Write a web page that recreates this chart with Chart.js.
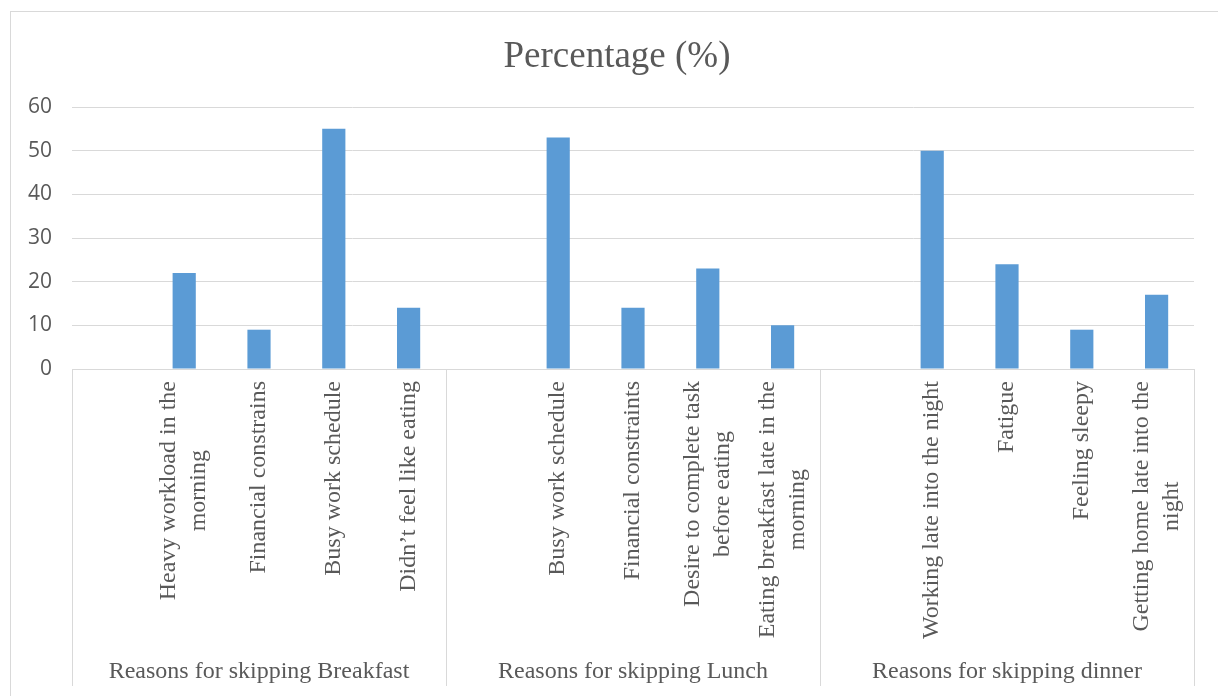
<!DOCTYPE html>
<html>
<head>
<meta charset="utf-8">
<script src="https://cdn.jsdelivr.net/npm/chart.js@4.4.1/dist/chart.umd.min.js"></script>
<style>
  html, body { margin: 0; padding: 0; background: #fff; overflow: hidden; }
  #frame {
    position: absolute; left: 10px; top: 11px; width: 1240px; height: 720px;
    border: 1px solid #d9d9d9; box-sizing: border-box;
  }
  #wrap { position: absolute; left: 0; top: 0; width: 1218px; height: 696px; }
</style>
</head>
<body>
<div id="frame"></div>
<div id="wrap"><canvas id="chart" width="1218" height="696"></canvas></div>
<script>
// Datos del gráfico
const chartTitle = 'Percentage (%)';
const groups = ['Reasons for skipping Breakfast', 'Reasons for skipping Lunch', 'Reasons for skipping dinner'];
const categories = [
  '', ['Heavy workload in the', 'morning'], 'Financial constrains', 'Busy work schedule', 'Didn\u2019t feel like eating',
  '', 'Busy work schedule', 'Financial constraints', ['Desire to complete task', 'before eating'], ['Eating breakfast late in the', 'morning'],
  '', 'Working late into the night', 'Fatigue', 'Feeling sleepy', ['Getting home late into the', 'night']
];
const percentages = [null, 22, 9, 55, 14, null, 53, 14, 23, 10, null, 50, 24, 9, 17];
const yTicks = [0, 10, 20, 30, 40, 50, 60];

const TEXT_COLOR = '#595959';
const LINE_COLOR = '#d9d9d9';
const SERIF = '"Liberation Serif", "Times New Roman", serif';

// Título, etiquetas de categoría giradas, separadores y nombres de grupo
const multiLevelAxis = {
  id: 'multiLevelAxis',
  afterDraw(chart) {
    const ctx = chart.ctx;
    const x = chart.scales.x;
    const top = x.top;
    const bottom = x.bottom;
    const perGroup = categories.length / groups.length;

    ctx.save();
    // título centrado en el marco
    ctx.fillStyle = TEXT_COLOR;
    ctx.font = '37px ' + SERIF;
    ctx.textAlign = 'center';
    ctx.textBaseline = 'alphabetic';
    ctx.fillText(chartTitle, (chart.width + 16) / 2, 67);

    ctx.strokeStyle = LINE_COLOR;
    ctx.lineWidth = 1;
    for (let g = 0; g <= groups.length; g++) {
      const px = Math.round(x.getPixelForValue(g * perGroup - 0.5)) + 0.5;
      ctx.beginPath();
      ctx.moveTo(px, top);
      ctx.lineTo(px, bottom);
      ctx.stroke();
    }

    ctx.font = '24px ' + SERIF;
    const lh = 30;
    categories.forEach((label, i) => {
      if (!label) return;
      const lines = Array.isArray(label) ? label : [label];
      const w = Math.max(...lines.map(l => ctx.measureText(l).width));
      const px = x.getPixelForValue(i);
      ctx.save();
      ctx.translate(px, top + 12);
      ctx.rotate(-Math.PI / 2);
      ctx.textAlign = 'center';
      ctx.textBaseline = 'middle';
      lines.forEach((l, j) => {
        ctx.fillText(l, -w / 2, (j - (lines.length - 1) / 2) * lh);
      });
      ctx.restore();
    });

    ctx.textAlign = 'center';
    ctx.textBaseline = 'middle';
    groups.forEach((name, g) => {
      const a = x.getPixelForValue(g * perGroup - 0.5);
      const b = x.getPixelForValue((g + 1) * perGroup - 0.5);
      ctx.fillText(name, (a + b) / 2, bottom - 14);
    });
    ctx.restore();
  }
};

const ctx = document.getElementById('chart').getContext('2d');
new Chart(ctx, {
  type: 'bar',
  data: {
    labels: categories,
    datasets: [{
      label: chartTitle,
      data: percentages,
      backgroundColor: '#5b9bd5',
      borderWidth: 0,
      categoryPercentage: 1,
      barPercentage: 0.31
    }]
  },
  options: {
    responsive: false,
    animation: false,
    layout: { padding: { top: 107, right: 24, bottom: 10, left: 0 } },
    plugins: {
      legend: { display: false },
      tooltip: { enabled: false },
      title: { display: false }
    },
    scales: {
      x: {
        ticks: { display: false },
        grid: { display: false },
        border: { display: true, color: LINE_COLOR, width: 1 },
        afterFit: scale => { scale.height = 317; }
      },
      y: {
        min: 0,
        max: 60,
        afterBuildTicks: scale => { scale.ticks = yTicks.map(v => ({ value: v })); },
        afterFit: scale => { scale.width = 72; },
        ticks: {
          color: TEXT_COLOR,
          padding: 20,
          font: { family: '"Open Sans", sans-serif', size: 21 }
        },
        grid: { color: LINE_COLOR, lineWidth: 1, drawTicks: false },
        border: { display: false }
      }
    }
  },
  plugins: [multiLevelAxis]
});
</script>
</body>
</html>
